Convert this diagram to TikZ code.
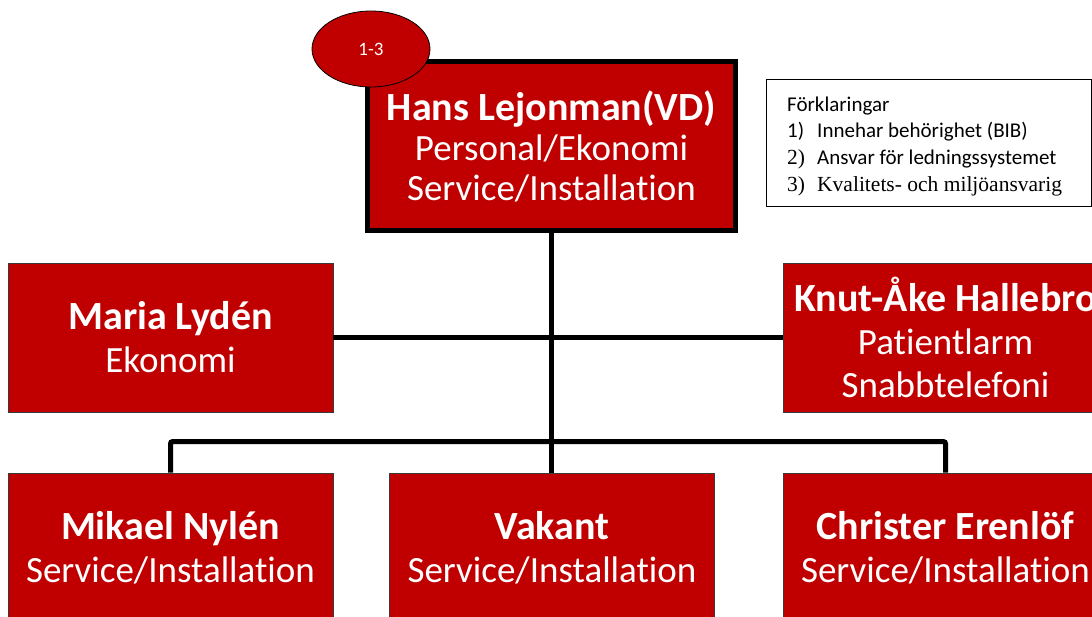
\documentclass[tikz,border=0pt]{standalone}
\usepackage{fontspec}
\setmainfont{Carlito}[Ligatures=NoCommon]
\newfontfamily\seriffont{Liberation Serif}
\usetikzlibrary{shapes.geometric}
\definecolor{boxred}{HTML}{C00000}
\definecolor{edgegray}{HTML}{3A3A3A}
\newcommand{\nm}[1]{{\fontsize{40}{42}\selectfont\bfseries #1}}
\tikzset{
  redbox/.style={rectangle, fill=boxred, draw=edgegray, line width=0.8pt, text=white,
    align=center, inner sep=0pt, minimum width=325pt, minimum height=149pt,
    font=\fontsize{37}{43}\selectfont},
  conn/.style={line width=5pt, draw=black},
  legtext/.style={anchor=base west, inner sep=0pt, font=\fontsize{21}{25}\selectfont},
  legserif/.style={legtext, font=\seriffont\fontsize{21.5}{25}\selectfont}
}
\begin{document}
\begin{tikzpicture}[x=1pt,y=-1pt]
\useasboundingbox (0,0) rectangle (1092,617);
\clip (0,0) rectangle (1092,617);
% boxes
\node[redbox, draw=black, line width=5pt, minimum width=368pt, minimum height=169pt,
  font=\fontsize{37}{40}\selectfont] (top) at (551.5,146)
  {\nm{Hans Lejonman(VD)}\\Personal/Ekonomi\\Service/Installation};
\node[redbox] (maria) at (170.5,337.5) {\nm{Maria Lydén}\\Ekonomi};
\node[redbox] (knut) at (945.5,337.5) {\nm{Knut-Åke Hallebro}\\Patientlarm\\Snabbtelefoni};
\node[redbox] (mik) at (170.5,547.5) {\nm{Mikael Nylén}\\Service/Installation};
\node[redbox] (vak) at (552,547.5) {\nm{Vakant}\\Service/Installation};
\node[redbox] (chr) at (945.5,547.5) {\nm{Christer Erenlöf}\\Service/Installation};
% ellipse
\node[ellipse, fill=boxred, draw=black, line width=0.8pt, minimum width=118pt, minimum height=76pt,
  inner sep=0pt, text=white, font=\fontsize{19}{22}\selectfont] (badge) at (371,49) {1-3};
% legend
\node[rectangle, draw=black, line width=1.3pt, minimum width=325pt, minimum height=127pt,
  anchor=north west, inner sep=0pt] (legend) at (766,79) {};
\node[legtext] (lg0) at (787,111.5) {Förklaringar};
\node[legtext] (lg1n) at (787,138) {1)};
\node[legtext] (lg1) at (817,138) {Innehar behörighet (BIB)};
\node[legserif] (lg2n) at (787,165) {2)};
\node[legtext] (lg2) at (817,165) {Ansvar för ledningssystemet};
\node[legserif] (lg3n) at (787,192) {3)};
\node[legserif] (lg3) at (817,192) {Kvalitets- och miljöansvarig};
% connectors
\draw[conn] (top.south) -- (top.south |- vak.north);
\draw[conn] (maria.east) -- (knut.west);
\draw[conn, rounded corners=2pt] (mik.north) -- ++(0,-31) -| (chr.north);
\end{tikzpicture}
\end{document}
